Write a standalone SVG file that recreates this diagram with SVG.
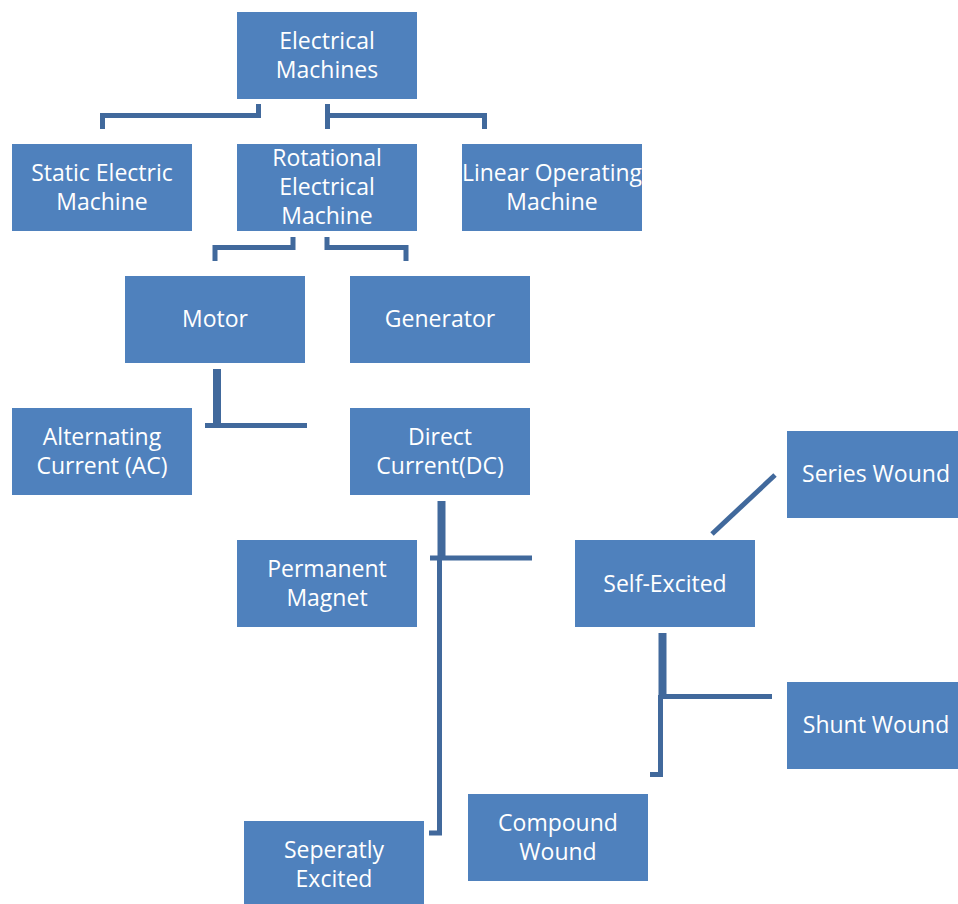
<svg xmlns="http://www.w3.org/2000/svg" width="958" height="904" viewBox="0 0 958 904">
<style>
.box{fill:#4F81BD}
.t{font-family:"Open Sans","Noto Sans","Liberation Sans",sans-serif;font-size:23px;fill:#FFFFFF;text-anchor:middle}
.c{fill:none;stroke:#41699C;stroke-width:5;stroke-linecap:butt;stroke-linejoin:miter}
.ct{fill:none;stroke:#41699C;stroke-width:8}
</style>
<rect width="958" height="904" fill="#FFFFFF"/>
<g id="connectors">
<path class="c" d="M102.5 129 V115.5 H258.5 V104"/>
<path class="c" d="M327.5 104 V129 M327.5 115.5 H484.5 V129"/>
<path class="c" d="M215 261 V247.5 H293 V237"/>
<path class="c" d="M327 237 V247.5 H406 V261"/>
<path class="ct" d="M217 369 V425"/>
<path class="c" d="M205 425.5 H307"/>
<path class="ct" d="M441.5 501 V558"/>
<path class="c" d="M430 558 H532"/>
<path class="c" d="M439.5 556 V833 H429"/>
<path class="c" d="M775 475 L712 534"/>
<path class="ct" d="M662.5 633 V697"/>
<path class="c" d="M663 696.5 H772"/>
<path class="c" d="M660.5 695 V774.5 H650"/>
</g>
<g id="electrical-machines"><rect class="box" x="237" y="12" width="180" height="87"/><text class="t" x="327" y="49">Electrical</text><text class="t" x="327" y="78">Machines</text></g>
<g id="static-electric-machine"><rect class="box" x="12" y="144" width="180" height="87"/><text class="t" x="102" y="181">Static Electric</text><text class="t" x="102" y="210">Machine</text></g>
<g id="rotational-electrical-machine"><rect class="box" x="237" y="144" width="180" height="87"/><text class="t" x="327" y="166">Rotational</text><text class="t" x="327" y="195">Electrical</text><text class="t" x="327" y="224">Machine</text></g>
<g id="linear-operating-machine"><rect class="box" x="462" y="144" width="180" height="87"/><text class="t" x="552" y="181" textLength="180" lengthAdjust="spacingAndGlyphs">Linear Operating</text><text class="t" x="552" y="210">Machine</text></g>
<g id="motor"><rect class="box" x="125" y="276" width="180" height="87"/><text class="t" x="215" y="327">Motor</text></g>
<g id="generator"><rect class="box" x="350" y="276" width="180" height="87"/><text class="t" x="440" y="327">Generator</text></g>
<g id="alternating-current"><rect class="box" x="12" y="408" width="180" height="87"/><text class="t" x="102" y="445">Alternating</text><text class="t" x="102" y="474">Current (AC)</text></g>
<g id="direct-current"><rect class="box" x="350" y="408" width="180" height="87"/><text class="t" x="440" y="445">Direct</text><text class="t" x="440" y="474">Current(DC)</text></g>
<g id="series-wound"><rect class="box" x="787" y="431" width="171" height="87"/><text class="t" x="876" y="482">Series Wound</text></g>
<g id="permanent-magnet"><rect class="box" x="237" y="540" width="180" height="87"/><text class="t" x="327" y="577">Permanent</text><text class="t" x="327" y="606">Magnet</text></g>
<g id="self-excited"><rect class="box" x="575" y="540" width="180" height="87"/><text class="t" x="665" y="592">Self-Excited</text></g>
<g id="shunt-wound"><rect class="box" x="787" y="682" width="171" height="87"/><text class="t" x="876" y="733">Shunt Wound</text></g>
<g id="compound-wound"><rect class="box" x="468" y="794" width="180" height="87"/><text class="t" x="558" y="831">Compound</text><text class="t" x="558" y="860">Wound</text></g>
<g id="seperately-excited"><rect class="box" x="244" y="821" width="180" height="87"/><text class="t" x="334" y="858">Seperatly</text><text class="t" x="334" y="887">Excited</text></g>
</svg>
